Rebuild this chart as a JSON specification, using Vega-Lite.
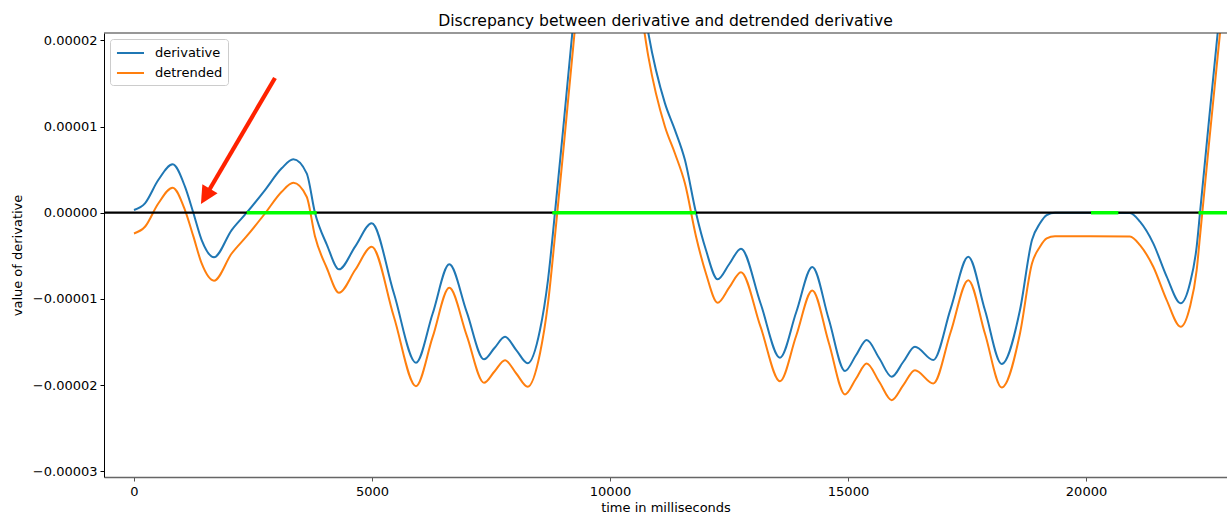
{
  "$schema": "https://vega.github.io/schema/vega-lite/v6.json",
  "width": 1123,
  "height": 444,
  "autosize": {"type": "none"},
  "padding": {"left": 104, "top": 33, "right": 0, "bottom": 40},
  "background": "white",
  "config": {
    "font": "DejaVu Sans",
    "view": {"stroke": null},
    "axis": {"grid": false}
  },
  "title": {
    "text": "Discrepancy between derivative and detrended derivative",
    "fontSize": 15.6,
    "fontWeight": "normal",
    "color": "#000",
    "anchor": "middle",
    "frame": "group",
    "baseline": "alphabetic",
    "offset": 9,
    "dy": 18
  },
  "datasets": {
    "curves": [
      {"t": 0, "derivative": 0.031e-5, "detrended": -0.241e-5},
      {"t": 231, "derivative": 0.109e-5, "detrended": -0.163e-5},
      {"t": 510, "derivative": 0.379e-5, "detrended": 0.107e-5},
      {"t": 813, "derivative": 0.561e-5, "detrended": 0.289e-5},
      {"t": 1071, "derivative": 0.302e-5, "detrended": 0.030e-5},
      {"t": 1246, "derivative": 0, "detrended": -0.272e-5},
      {"t": 1422, "derivative": -0.317e-5, "detrended": -0.589e-5},
      {"t": 1681, "derivative": -0.517e-5, "detrended": -0.789e-5},
      {"t": 2052, "derivative": -0.201e-5, "detrended": -0.473e-5},
      {"t": 2368, "derivative": 0, "detrended": -0.272e-5},
      {"t": 2752, "derivative": 0.263e-5, "detrended": -0.009e-5},
      {"t": 3103, "derivative": 0.515e-5, "detrended": 0.243e-5},
      {"t": 3347, "derivative": 0.619e-5, "detrended": 0.347e-5},
      {"t": 3628, "derivative": 0.457e-5, "detrended": 0.185e-5},
      {"t": 3802, "derivative": 0, "detrended": -0.272e-5},
      {"t": 4055, "derivative": -0.375e-5, "detrended": -0.647e-5},
      {"t": 4307, "derivative": -0.657e-5, "detrended": -0.929e-5},
      {"t": 4649, "derivative": -0.390e-5, "detrended": -0.662e-5},
      {"t": 4994, "derivative": -0.123e-5, "detrended": -0.395e-5},
      {"t": 5458, "derivative": -0.932e-5, "detrended": -1.204e-5},
      {"t": 5924, "derivative": -1.740e-5, "detrended": -2.012e-5},
      {"t": 6275, "derivative": -1.169e-5, "detrended": -1.441e-5},
      {"t": 6624, "derivative": -0.599e-5, "detrended": -0.871e-5},
      {"t": 6989, "derivative": -1.150e-5, "detrended": -1.422e-5},
      {"t": 7353, "derivative": -1.701e-5, "detrended": -1.973e-5},
      {"t": 7573, "derivative": -1.570e-5, "detrended": -1.842e-5},
      {"t": 7794, "derivative": -1.439e-5, "detrended": -1.711e-5},
      {"t": 8031, "derivative": -1.593e-5, "detrended": -1.865e-5},
      {"t": 8271, "derivative": -1.747e-5, "detrended": -2.019e-5},
      {"t": 8529, "derivative": -1.361e-5, "detrended": -1.633e-5},
      {"t": 8697, "derivative": -0.781e-5, "detrended": -1.053e-5},
      {"t": 8844, "derivative": 0, "detrended": -0.272e-5},
      {"t": 9034, "derivative": 1.075e-5, "detrended": 0.803e-5},
      {"t": 9208, "derivative": 2.085e-5, "detrended": 1.813e-5},
      {"t": 9412, "derivative": 3.163e-5, "detrended": 2.891e-5},
      {"t": 9895, "derivative": 3.860e-5, "detrended": 3.588e-5},
      {"t": 10315, "derivative": 3.628e-5, "detrended": 3.356e-5},
      {"t": 10630, "derivative": 2.700e-5, "detrended": 2.428e-5},
      {"t": 10805, "derivative": 2.085e-5, "detrended": 1.813e-5},
      {"t": 11155, "derivative": 1.269e-5, "detrended": 0.997e-5},
      {"t": 11365, "derivative": 0.959e-5, "detrended": 0.687e-5},
      {"t": 11575, "derivative": 0.611e-5, "detrended": 0.339e-5},
      {"t": 11806, "derivative": 0, "detrended": -0.272e-5},
      {"t": 12016, "derivative": -0.433e-5, "detrended": -0.705e-5},
      {"t": 12262, "derivative": -0.773e-5, "detrended": -1.045e-5},
      {"t": 12506, "derivative": -0.595e-5, "detrended": -0.867e-5},
      {"t": 12752, "derivative": -0.418e-5, "detrended": -0.690e-5},
      {"t": 13162, "derivative": -1.050e-5, "detrended": -1.322e-5},
      {"t": 13571, "derivative": -1.682e-5, "detrended": -1.954e-5},
      {"t": 13912, "derivative": -1.155e-5, "detrended": -1.427e-5},
      {"t": 14250, "derivative": -0.630e-5, "detrended": -0.902e-5},
      {"t": 14595, "derivative": -1.233e-5, "detrended": -1.505e-5},
      {"t": 14937, "derivative": -1.836e-5, "detrended": -2.108e-5},
      {"t": 15164, "derivative": -1.657e-5, "detrended": -1.929e-5},
      {"t": 15393, "derivative": -1.477e-5, "detrended": -1.749e-5},
      {"t": 15656, "derivative": -1.689e-5, "detrended": -1.961e-5},
      {"t": 15918, "derivative": -1.903e-5, "detrended": -2.175e-5},
      {"t": 16162, "derivative": -1.729e-5, "detrended": -2.001e-5},
      {"t": 16407, "derivative": -1.555e-5, "detrended": -1.827e-5},
      {"t": 16792, "derivative": -1.709e-5, "detrended": -1.981e-5},
      {"t": 17159, "derivative": -1.109e-5, "detrended": -1.381e-5},
      {"t": 17527, "derivative": -0.510e-5, "detrended": -0.782e-5},
      {"t": 17878, "derivative": -1.132e-5, "detrended": -1.404e-5},
      {"t": 18229, "derivative": -1.755e-5, "detrended": -2.027e-5},
      {"t": 18613, "derivative": -1.129e-5, "detrended": -1.401e-5},
      {"t": 18865, "derivative": -0.317e-5, "detrended": -0.589e-5},
      {"t": 19033, "derivative": -0.123e-5, "detrended": -0.395e-5},
      {"t": 19174, "derivative": -0.027e-5, "detrended": -0.299e-5},
      {"t": 19348, "derivative": 0, "detrended": -0.272e-5},
      {"t": 20084, "derivative": 0, "detrended": -0.272e-5},
      {"t": 20924, "derivative": -0.003e-5, "detrended": -0.275e-5},
      {"t": 21134, "derivative": -0.104e-5, "detrended": -0.376e-5},
      {"t": 21413, "derivative": -0.355e-5, "detrended": -0.627e-5},
      {"t": 21695, "derivative": -0.742e-5, "detrended": -1.014e-5},
      {"t": 21989, "derivative": -1.051e-5, "detrended": -1.323e-5},
      {"t": 22184, "derivative": -0.819e-5, "detrended": -1.091e-5},
      {"t": 22325, "derivative": -0.394e-5, "detrended": -0.666e-5},
      {"t": 22395, "derivative": 0, "detrended": -0.272e-5},
      {"t": 22584, "derivative": 1.075e-5, "detrended": 0.803e-5},
      {"t": 22766, "derivative": 2.085e-5, "detrended": 1.813e-5},
      {"t": 22962, "derivative": 3.163e-5, "detrended": 2.891e-5}
    ],
    "green": [
      {"start": 2368, "end": 3839},
      {"start": 8788, "end": 11806},
      {"start": 20105, "end": 20679},
      {"start": 22362, "end": 23500}
    ],
    "arrow": [
      {"t1": 2962, "v1": 1.563e-5, "t2": 1555, "v2": 0.240e-5, "tt": 1407, "vt": 0.101e-5}
    ],
    "refs": [
      {"zero": 0, "top": 2.085e-5}
    ]
  },
  "layer": [
    {
      "data": {"name": "curves"},
      "transform": [{"fold": ["derivative", "detrended"], "as": ["series", "value"]}],
      "mark": {"type": "line", "clip": true, "strokeWidth": 2, "interpolate": "monotone"},
      "encoding": {
        "x": {
          "field": "t", "type": "quantitative",
          "scale": {"domain": [-630, 22962], "nice": false, "zero": false},
          "axis": {
            "title": "time in milliseconds",
            "values": [0, 5000, 10000, 15000, 20000],
            "format": "d",
            "labelFontSize": 13,
            "labelColor": "#000",
            "labelPadding": 4,
            "tickSize": 4,
            "tickColor": "#555",
            "domainColor": "#666",
            "domainWidth": 1.5,
            "titleFontSize": 13,
            "titleFontWeight": "normal",
            "titleColor": "#000",
            "titlePadding": 3
          }
        },
        "y": {
          "field": "value", "type": "quantitative",
          "scale": {"domain": [-3.066e-5, 2.085e-5], "nice": false, "zero": false},
          "axis": {
            "title": "value of derivative",
            "values": [-3e-5, -2e-5, -1e-5, 0, 1e-5, 2e-5],
            "format": ".5f",
            "labelFontSize": 13,
            "labelColor": "#000",
            "labelPadding": 3,
            "tickSize": 4,
            "tickColor": "#000",
            "domainColor": "#000",
            "titleFontSize": 13,
            "titleFontWeight": "normal",
            "titleColor": "#000",
            "titleX": -87,
            "titleY": 222,
            "titleAngle": -90,
            "titleAlign": "center",
            "titleBaseline": "middle"
          }
        },
        "color": {
          "field": "series", "type": "nominal",
          "scale": {"domain": ["derivative", "detrended"], "range": ["#1f77b4", "#ff7f0e"]},
          "legend": {
            "title": null,
            "orient": "top-left",
            "offset": 5.5,
            "symbolType": "M-0.88,0H2.5",
            "symbolStrokeWidth": 2,
            "symbolSize": 256,
            "labelFontSize": 13,
            "labelColor": "#000",
            "labelOffset": 22,
            "rowPadding": 4,
            "padding": 5,
            "strokeColor": "#ccc",
            "fillColor": "white",
            "cornerRadius": 3
          }
        }
      }
    },
    {
      "data": {"name": "refs"},
      "mark": {"type": "rule", "color": "#000", "strokeWidth": 2.3},
      "encoding": {
        "y": {"field": "zero", "type": "quantitative"}
      }
    },
    {
      "data": {"name": "refs"},
      "mark": {"type": "rule", "color": "#333", "strokeWidth": 1.2},
      "encoding": {
        "y": {"field": "top", "type": "quantitative"}
      }
    },
    {
      "data": {"name": "green"},
      "mark": {"type": "rule", "color": "#00ff00", "strokeWidth": 3.5, "clip": true},
      "encoding": {
        "x": {"field": "start", "type": "quantitative"},
        "x2": {"field": "end"},
        "y": {"datum": 0, "type": "quantitative"}
      }
    },
    {
      "data": {"name": "arrow"},
      "mark": {"type": "rule", "color": "#ff2200", "strokeWidth": 4.2},
      "encoding": {
        "x": {"field": "t1", "type": "quantitative"},
        "y": {"field": "v1", "type": "quantitative"},
        "x2": {"field": "t2"},
        "y2": {"field": "v2"}
      }
    },
    {
      "data": {"name": "arrow"},
      "mark": {"type": "point", "shape": "M0,0L-0.5,-1L0.5,-1Z", "filled": true, "color": "#ff2200", "opacity": 1, "size": 1253, "angle": 30.6, "strokeWidth": 0},
      "encoding": {
        "x": {"field": "tt", "type": "quantitative"},
        "y": {"field": "vt", "type": "quantitative"}
      }
    }
  ]
}
